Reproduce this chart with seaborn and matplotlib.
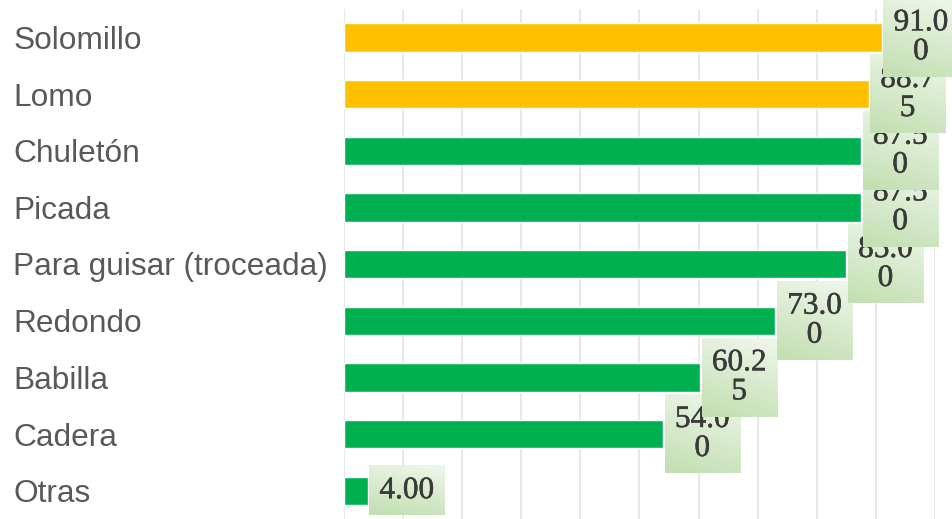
import matplotlib
matplotlib.use("Agg")
import matplotlib.pyplot as plt
import matplotlib.patheffects as pe
import seaborn as sns
import pandas as pd
import numpy as np

categories = ["Solomillo", "Lomo", "Chuletón", "Picada", "Para guisar (troceada)",
              "Redondo", "Babilla", "Cadera", "Otras"]
values = [91.00, 88.75, 87.50, 87.50, 85.00, 73.00, 60.25, 54.00, 4.00]
groups = ["top", "top", "rest", "rest", "rest", "rest", "rest", "rest", "rest"]
label_texts = ["91.0\n0", "88.7\n5", "87.5\n0", "87.5\n0", "85.0\n0",
               "73.0\n0", "60.2\n5", "54.0\n0", "4.00"]

df = pd.DataFrame({"cat": categories, "val": values, "grp": groups})

sns.set_theme(style="white")
plt.rcParams['font.family'] = ['Liberation Sans', 'DejaVu Sans']

fig = plt.figure(figsize=(9.53, 5.19), dpi=100)
ax = fig.add_axes([344/953, 0.0, (935-344)/953, 1 - 9/519])

sns.barplot(data=df, x="val", y="cat", hue="grp",
            palette={"top": "#FFC000", "rest": "#00B050"}, saturation=1,
            dodge=False, width=0.5, legend=False, ax=ax, zorder=2)

ax.set_xlim(0, 100)
ax.set_ylim(8.5, -0.5)
ax.set_xticks(range(0, 101, 10))
ax.set_xticklabels([])
ax.grid(axis="x", color="#e4e4e4", linewidth=1.2, zorder=0)
ax.grid(axis="y", visible=False)
ax.set_axisbelow(True)
for s in ax.spines.values():
    s.set_visible(False)
ax.set_xlabel("")
ax.set_ylabel("")
ax.tick_params(axis="x", length=0)
ax.tick_params(axis="y", length=0, pad=238, labelsize=22.8, labelcolor="#595959")
for lab in ax.get_yticklabels():
    lab.set_horizontalalignment("left")

n = len(categories)
texts = []
for i, (v, t) in enumerate(zip(values, label_texts)):
    z = 10 + 2 * (n - i)
    txt = ax.annotate(t, xy=(v, i), xytext=(8.5, 0), textcoords="offset points",
                      ha="left", va="center", multialignment="center",
                      fontsize=22.5, color="#3a3a3a",
                      family=["Liberation Serif", "DejaVu Serif"], linespacing=1.0,
                      bbox=dict(boxstyle="square,pad=0.33", fc="none", ec="none"),
                      zorder=z, annotation_clip=False,
                      path_effects=[pe.withStroke(linewidth=0.35, foreground="#3a3a3a")])
    texts.append((txt, z))

# gradient fill behind each label box
top_c = np.array([0xee, 0xf6, 0xea]) / 255
bot_c = np.array([0xc3, 0xe0, 0xb2]) / 255
H, W = 64, 32
vy = np.linspace(0, 1, H)[:, None, None]
vx = np.linspace(0, 1, W)[None, :, None]
mix = np.clip(0.85 * vy + 0.25 * (1 - vx) - 0.05, 0, 1)
grad = top_c * (1 - mix) + bot_c * mix

fig.canvas.draw()
renderer = fig.canvas.get_renderer()
inv = ax.transData.inverted()
for txt, z in texts:
    bb = txt.get_bbox_patch().get_window_extent(renderer)
    (x0, yb), (x1, yt) = inv.transform([[bb.x0, bb.y0], [bb.x1, bb.y1]])
    im = ax.imshow(grad, extent=[x0, x1, yb, yt], origin="upper", aspect="auto",
                   interpolation="bilinear", zorder=z - 1)
    im.set_clip_on(False)

ax.set_xlim(0, 100)
ax.set_ylim(8.5, -0.5)

fig.savefig("out.png", dpi=100)
